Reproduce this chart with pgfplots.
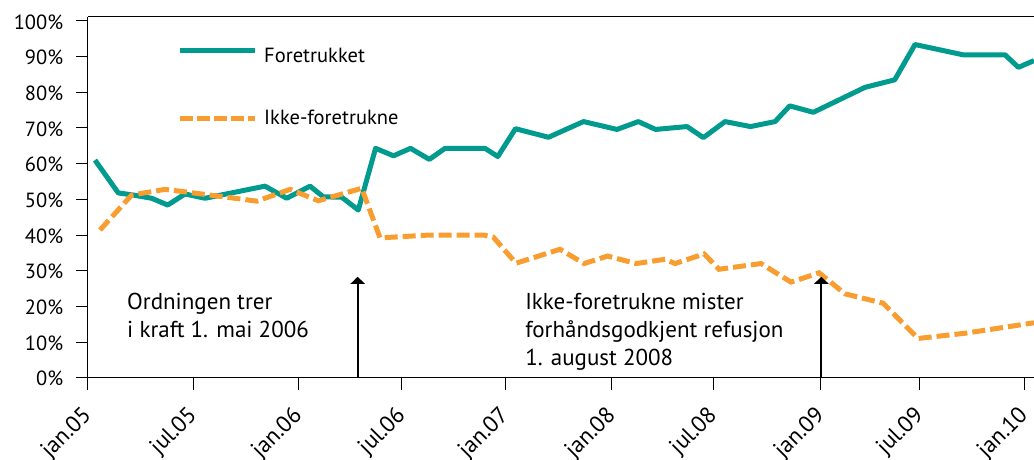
\documentclass[border=0pt]{standalone}
\usepackage{fontspec}
\setmainfont{PT Sans}
\usepackage{pgfplots}
\pgfplotsset{compat=1.18}
\usetikzlibrary{arrows.meta}

\definecolor{teal}{RGB}{0,154,142}
\definecolor{orng}{RGB}{248,157,48}

\begin{document}
\begin{tikzpicture}
\begin{axis}[
    scale only axis,
    width=946.3pt, height=361pt,
    xmin=0, xmax=9.096,
    ymin=0, ymax=101.2,
    axis x line=box, axis y line=left,
    axis line style={-, line width=1.2pt, black},
    xtick pos=left,
    tick align=outside,
    major tick length=12pt,
    tick style={black, line width=1pt},
    xtick={0,1.015,2.025,3.018,4.012,5.038,6.012,7.047,7.999,9.0},
    xticklabels={jan.05,jul.05,jan.06,jul.06,jan.07,jan.08,jul.08,jan.09,jul.09,jan.10},
    ytick={0,10,...,100},
    yticklabels={0\%,10\%,20\%,30\%,40\%,50\%,60\%,70\%,80\%,90\%,100\%},
    x tick label style={font=\fontsize{23}{26}\selectfont, xshift=3pt, yshift=-20pt, rotate=45, anchor=east},
    y tick label style={font=\fontsize{20.5}{24}\selectfont, xshift=-9pt, yshift=-1pt},
]

% Foretrukket
\addplot[color=teal, line width=5pt, line join=round] coordinates {
 (0.070,61.0) (0.294,51.8) (0.438,51.2) (0.615,50.3) (0.769,48.4) (0.935,51.5)
 (1.128,50.3) (1.704,53.7) (1.913,50.3) (2.137,53.7) (2.265,50.7) (2.442,50.6)
 (2.601,47.0) (2.767,64.3) (2.940,62.2) (3.103,64.3) (3.284,61.2) (3.435,64.3)
 (3.819,64.3) (3.942,62.0) (4.112,69.8) (4.429,67.4) (4.766,71.8) (5.088,69.6)
 (5.293,71.8) (5.458,69.6) (5.761,70.4) (5.918,67.3) (6.126,71.8) (6.371,70.4)
 (6.607,71.8) (6.748,76.2) (6.975,74.4) (7.472,81.4) (7.757,83.5) (7.952,93.4)
 (8.417,90.5) (8.818,90.5) (8.946,87.0) (9.096,88.9)
};

% Ikke-foretrukne
\addplot[color=orng, line width=5pt, dash pattern=on 13pt off 5pt] coordinates {
 (0.118,41.4) (0.423,51.2) (0.743,52.8) (0.935,52.1) (1.625,49.5) (1.945,52.8)
 (2.217,49.6) (2.634,53.1) (2.810,39.2) (3.290,40.0) (3.803,40.0) (3.899,39.4)
 (4.117,32.1) (4.540,36.0) (4.771,32.0) (4.997,34.1) (5.271,32.0) (5.550,33.2)
 (5.646,32.0) (5.925,34.7) (6.068,30.4) (6.472,32.0) (6.760,26.8) (7.030,29.4)
 (7.280,23.5) (7.645,20.9) (7.981,11.0) (8.443,12.5) (9.096,15.4)
};

% legend
\draw[teal, line width=5pt] (axis cs:0.887,91.67) -- (axis cs:1.608,91.67);
\node[anchor=base west, inner sep=0pt, font=\fontsize{20.5}{24}\selectfont]
  at (axis cs:1.695,88.42) {Foretrukket};
\draw[orng, line width=5pt, dash pattern=on 13pt off 4pt] (axis cs:0.887,72.72) -- (axis cs:1.608,72.72);
\node[anchor=base west, inner sep=0pt, font=\fontsize{20.5}{24}\selectfont]
  at (axis cs:1.695,71.04) {Ikke-foretrukne};

% annotations
\draw[line width=2pt, -{Triangle[width=14pt,length=7pt]}] (axis cs:2.595,0) -- (axis cs:2.595,28.3);
\draw[line width=2pt, -{Triangle[width=14pt,length=7pt]}] (axis cs:7.052,0) -- (axis cs:7.052,28.3);
\begin{scope}[every node/.style={anchor=base west, inner sep=0pt, font=\fontsize{23}{28}\selectfont}]
\node at (axis cs:0.378,19.18) {Ordningen trer};
\node at (axis cs:0.378,11.33) {i kraft 1. mai 2006};
\node at (axis cs:4.204,19.18) {Ikke-foretrukne mister};
\node at (axis cs:4.204,11.33) {forhåndsgodkjent refusjon};
\node at (axis cs:4.204,3.56) {1. august 2008};
\end{scope}

\coordinate (ll) at (rel axis cs:0,0);
\coordinate (ur) at (rel axis cs:1,1);
\end{axis}
\pgfresetboundingbox
\path ([xshift=-87.7pt,yshift=-81.3pt]ll) rectangle ([yshift=16.7pt]ur);
\end{tikzpicture}
\end{document}
